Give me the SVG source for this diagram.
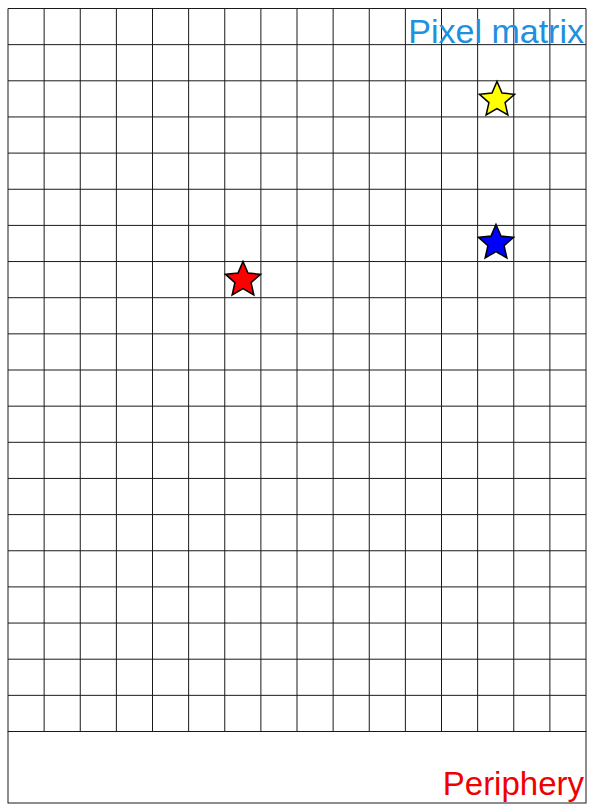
<svg xmlns="http://www.w3.org/2000/svg" xmlns:xlink="http://www.w3.org/1999/xlink" width="590" height="804" viewBox="0 0 590 804">
<style>
.grid{stroke:#1a1a1a;stroke-width:1;fill:none}
.star{stroke:#000;stroke-width:1.5;stroke-linejoin:miter}
.lbl{font-family:"Liberation Sans",Arial,sans-serif;font-size:33px;text-anchor:end}
</style>
<defs>
<path id="star" d="M0,-18.5 L5.0,-6.88 L17.59,-5.72 L8.08,2.63 L10.87,14.97 L0,8.5 L-10.87,14.97 L-8.08,2.63 L-17.59,-5.72 L-5.0,-6.88 Z"/>
</defs>
<rect width="590" height="804" fill="#fff"/>
<g id="pixel-matrix">
<path class="grid" d="M8,8.5V731.5M44.125,8.5V731.5M80.25,8.5V731.5M116.375,8.5V731.5M152.5,8.5V731.5M188.625,8.5V731.5M224.75,8.5V731.5M260.875,8.5V731.5M297,8.5V731.5M333.125,8.5V731.5M369.25,8.5V731.5M405.375,8.5V731.5M441.5,8.5V731.5M477.625,8.5V731.5M513.75,8.5V731.5M549.875,8.5V731.5M586,8.5V731.5
M8,8.5H586M8,44.65H586M8,80.8H586M8,116.95H586M8,153.1H586M8,189.25H586M8,225.4H586M8,261.55H586M8,297.7H586M8,333.85H586M8,370H586M8,406.15H586M8,442.3H586M8,478.45H586M8,514.6H586M8,550.75H586M8,586.9H586M8,623.05H586M8,659.2H586M8,695.35H586M8,731.5H586"/>
<text class="lbl" x="584" y="43" fill="#1e90e0" style="font-size:34px">Pixel matrix</text>
</g>
<g id="periphery">
<rect class="grid" x="8" y="731.5" width="578" height="71.5"/>
<text class="lbl" x="584" y="795" fill="#f00000">Periphery</text>
</g>
<g id="star-yellow"><use xlink:href="#star" class="star" fill="#ffff00" transform="translate(497,100)"/></g>
<g id="star-blue"><use xlink:href="#star" class="star" fill="#0000ff" transform="translate(496,243)"/></g>
<g id="star-red"><use xlink:href="#star" class="star" fill="#ff0000" transform="translate(243,280)"/></g>
<g id="connectors"></g>
</svg>
